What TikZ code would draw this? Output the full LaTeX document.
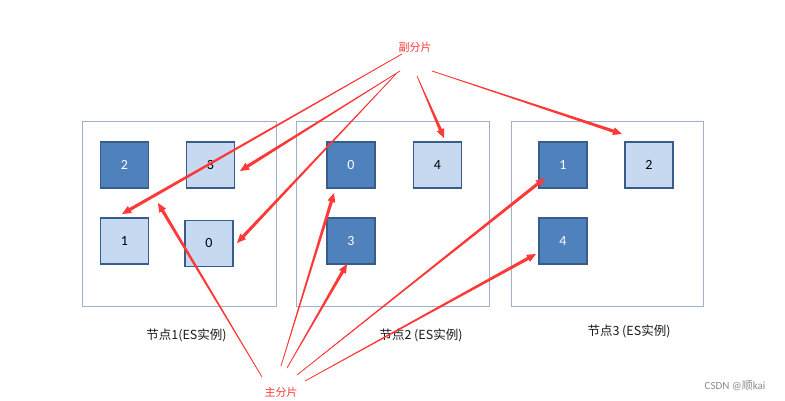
\documentclass[tikz,border=0pt]{standalone}
\usepackage{fontspec}
\setmainfont{Carlito}
\newfontfamily\cjk{Noto Sans CJK SC}
\usetikzlibrary{calc,arrows.meta}
\definecolor{darkfill}{HTML}{4F81BD}
\definecolor{lightfill}{HTML}{C6D9F1}
\definecolor{sqborder}{HTML}{385D8A}
\definecolor{boxline}{HTML}{9FB1C8}
\definecolor{arrowred}{HTML}{FF3838}
\tikzset{
  sq/.style={draw=sqborder, line width=1.6pt, minimum width=48pt, minimum height=46pt, inner sep=0pt, font=\fontsize{14}{14}\selectfont},
  dark/.style={sq, fill=darkfill, text=white},
  light/.style={sq, fill=lightfill, text=black},
  nodebox/.style={draw=boxline, line width=0.8pt},
  lbl/.style={font=\cjk\fontsize{12.5}{12.5}\selectfont, text=black!90, inner sep=0pt},
  redlbl/.style={font=\cjk\fontsize{11}{11}\selectfont, text=arrowred, inner sep=0pt},
  conn/.style={draw=arrowred, line width=0.5pt}
}
\newcommand\taper[2]{%
  \draw[conn] (#1) -- ($(#2)!6pt!(#1)$);
  \coordinate (tpH) at ($(#2)!9pt!(#1)$);
  \fill[arrowred] ($(#1)!0.25pt!90:(#2)$) -- ($(tpH)!1.6pt!90:(#2)$) -- ($(tpH)!4pt!90:(#2)$) -- (#2) -- ($(tpH)!4pt!-90:(#2)$) -- ($(tpH)!1.6pt!-90:(#2)$) -- ($(#1)!0.25pt!-90:(#2)$) -- cycle;}
\begin{document}
\begin{tikzpicture}[x=1pt,y=-1pt]
\useasboundingbox (0,0) rectangle (785,401);
% node containers
\draw[nodebox] (82,121) rectangle (276,306);
\draw[nodebox] (296,121) rectangle (489,306);
\draw[nodebox] (511,121) rectangle (703,306);
% shards node 1
\node[dark]  (a2) at (124.5,165) {2};
\node[light] (a3) at (210.5,165) {3};
\node[light] (a1) at (124.5,241) {1};
\node[light] (a0) at (209,243.5) {0};
% shards node 2
\node[dark]  (b0) at (351,165) {0};
\node[light] (b4) at (437.5,165) {4};
\node[dark]  (b3) at (351,241) {3};
% shards node 3
\node[dark]  (c1) at (563,165) {1};
\node[light] (c2) at (649,165) {2};
\node[dark]  (c4) at (563,241) {4};
% labels
\node[redlbl] (rep) at (415,47) {副分片};
\node[redlbl] (pri) at (281,392) {主分片};
\node[lbl] (n1) at (186.5,335) {节点1(ES实例)};
\node[lbl] (n2) at (421,335) {节点2 (ES实例)};
\node[lbl] (n3) at (629,331) {节点3 (ES实例)};
\node[font=\fontsize{11}{11}\selectfont, text=black!45, inner sep=0pt] (wm) at (735,386) {CSDN @{\cjk 顺}kai};
% replica arrow ends
\coordinate (rs1) at (402,54);
\coordinate (rs3) at (400,71);
\coordinate (rs0) at (396,74);
\coordinate (rs4) at (417,76);
\coordinate (rs2) at (432,71);
\coordinate (rt1) at (122,214);
\coordinate (rt3) at (240,171);
\coordinate (rt0) at (237,243);
\coordinate (rt4) at (444,138);
\coordinate (rt2) at (622,134);
\taper{rs1}{rt1}
\taper{rs3}{rt3}
\taper{rs0}{rt0}
\taper{rs4}{rt4}
\taper{rs2}{rt2}
% primary arrow ends
\coordinate (ps2) at (262,377);
\coordinate (ps0) at (281,366);
\coordinate (ps3) at (287,368);
\coordinate (ps1) at (297,375);
\coordinate (ps4) at (305,381);
\coordinate (pt2) at (158,203);
\coordinate (pt0) at (334,193);
\coordinate (pt3) at (347,264);
\coordinate (pt1) at (545,178);
\coordinate (pt4) at (536,254);
\taper{ps2}{pt2}
\taper{ps0}{pt0}
\taper{ps3}{pt3}
\taper{ps1}{pt1}
\taper{ps4}{pt4}
\end{tikzpicture}
\end{document}
